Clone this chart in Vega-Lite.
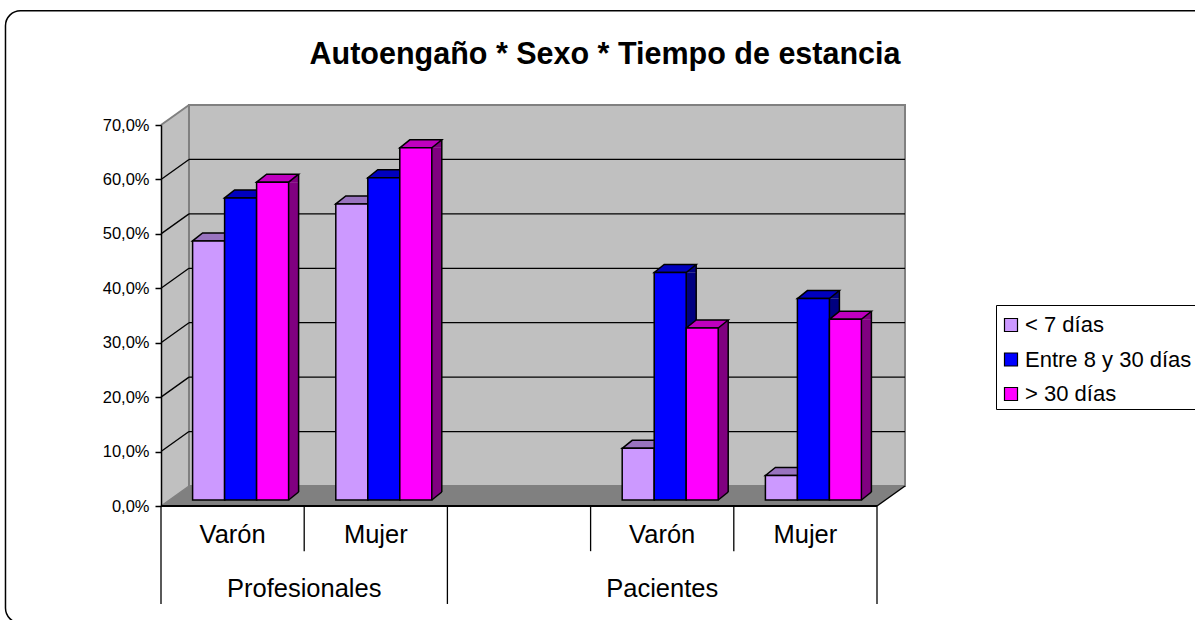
{
"$schema":"https://vega.github.io/schema/vega-lite/v6.json",
"autosize":{"type":"none"},
"padding":{"left":161,"top":125,"right":318,"bottom":114},
"width":716,"height":381,
"background":"white",
"title":{"text":"Autoengaño * Sexo * Tiempo de estancia","font":"Liberation Sans","fontSize":30.5,"fontWeight":"bold","color":"black","anchor":"middle","frame":"group","dx":86,"offset":-60.5},
"config":{"view":{"stroke":null},"font":"Liberation Sans","axisX":{"disable":true}},
"datasets":{
"barras":[
{"categoria":"Profesionales Varón","tiempo":"< 7 días","valor":47.6},
{"categoria":"Profesionales Varón","tiempo":"Entre 8 y 30 días","valor":55.5},
{"categoria":"Profesionales Varón","tiempo":"> 30 días","valor":58.4},
{"categoria":"Profesionales Mujer","tiempo":"< 7 días","valor":54.4},
{"categoria":"Profesionales Mujer","tiempo":"Entre 8 y 30 días","valor":59.2},
{"categoria":"Profesionales Mujer","tiempo":"> 30 días","valor":64.7},
{"categoria":"Pacientes Varón","tiempo":"< 7 días","valor":9.5},
{"categoria":"Pacientes Varón","tiempo":"Entre 8 y 30 días","valor":41.8},
{"categoria":"Pacientes Varón","tiempo":"> 30 días","valor":31.6},
{"categoria":"Pacientes Mujer","tiempo":"< 7 días","valor":4.5},
{"categoria":"Pacientes Mujer","tiempo":"Entre 8 y 30 días","valor":37.0},
{"categoria":"Pacientes Mujer","tiempo":"> 30 días","valor":33.2}
],
"sexos":[
{"pos":0.5,"sexo":"Varón"},
{"pos":1.5,"sexo":"Mujer"},
{"pos":3.5,"sexo":"Varón"},
{"pos":4.5,"sexo":"Mujer"}
],
"grupos":[
{"centro":1,"grupo":"Profesionales"},
{"centro":3.5,"grupo":"Pacientes"}
],
"separadores":[
{"f":0,"hasta":-18},
{"f":1,"hasta":-8.3},
{"f":2,"hasta":-18},
{"f":3,"hasta":-8.3},
{"f":4,"hasta":-8.3},
{"f":5,"hasta":-18}
],
"rejilla":[{"v":10},{"v":20},{"v":30},{"v":40},{"v":50},{"v":60}],
"uno":[{}]
},
"layer":[
{"data":{"name":"uno"},"mark":{"type":"rect","fill":"white","stroke":"black","strokeWidth":1.5,"cornerRadius":15},
 "encoding":{"x":{"datum":-1.086,"type":"quantitative"},"x2":{"datum":8},"y":{"datum":91,"type":"quantitative"},"y2":{"datum":-21.5}}},
{"mark":{"type":"area","fill":"#C0C0C0"},
 "data":{"values":[{"d":0,"lo":0,"hi":70},{"d":0.1955,"lo":3.67,"hi":73.67}]},
 "encoding":{"x":{"field":"d","type":"quantitative"},"y":{"field":"lo","type":"quantitative"},"y2":{"field":"hi"}}},
{"data":{"name":"uno"},"mark":{"type":"rect","fill":"#C0C0C0","stroke":"#808080","strokeWidth":2},
 "encoding":{"x":{"datum":0.1955,"type":"quantitative"},"x2":{"datum":5.1955},"y":{"datum":3.67,"type":"quantitative"},"y2":{"datum":73.67}}},
{"mark":{"type":"area","orient":"horizontal","fill":"#808080"},
 "data":{"values":[{"v":0,"a":0,"b":5},{"v":3.67,"a":0.1955,"b":5.1955}]},
 "encoding":{"y":{"field":"v","type":"quantitative"},"x":{"field":"a","type":"quantitative"},"x2":{"field":"b"}}},
{"mark":{"type":"rule","color":"black","strokeWidth":1.3,"yOffset":-20},
 "data":{"name":"rejilla"},
 "encoding":{"x":{"datum":0.1955,"type":"quantitative"},"x2":{"datum":5.1955},"y":{"field":"v","type":"quantitative","scale":{"domain":[0,70]},"axis":{"values":[0,10,20,30,40,50,60,70],"title":null,"grid":false,"domainColor":"black","domainWidth":1.5,"tickColor":"black","tickWidth":1.5,"tickSize":6,"labelFont":"Liberation Sans","labelFontSize":16.5,"labelColor":"black","labelPadding":6,"labelExpr":"replace(format(datum.value,'.1f'),'.',',')+'%'","zindex":1}}}},
{"mark":{"type":"rule","color":"black","strokeWidth":1.3,"y2Offset":-20},
 "data":{"name":"rejilla"},
 "encoding":{"x":{"datum":0,"type":"quantitative"},"x2":{"datum":0.1955},"y":{"field":"v","type":"quantitative"},"y2":{"field":"v"}}},
{"data":{"name":"uno"},"mark":{"type":"rule","color":"#808080","strokeWidth":2,"y2Offset":-20},
 "encoding":{"x":{"datum":0,"type":"quantitative"},"x2":{"datum":0.1955},"y":{"datum":70,"type":"quantitative"},"y2":{"datum":70}}},
{"data":{"name":"uno"},"mark":{"type":"rule","color":"#808080","strokeWidth":1.5,"y2Offset":-20},
 "encoding":{"x":{"datum":0,"type":"quantitative"},"x2":{"datum":0.1955},"y":{"datum":0,"type":"quantitative"},"y2":{"datum":0}}},
{"data":{"name":"uno"},"mark":{"type":"rule","color":"black","strokeWidth":1.5,"y2Offset":-20},
 "encoding":{"x":{"datum":5,"type":"quantitative"},"x2":{"datum":5.1955},"y":{"datum":0,"type":"quantitative"},"y2":{"datum":0}}},
{"data":{"name":"uno"},"mark":{"type":"rule","color":"black","strokeWidth":2},
 "encoding":{"x":{"datum":0,"type":"quantitative"},"x2":{"datum":5},"y":{"datum":0,"type":"quantitative"}}},
{"mark":{"type":"rule","color":"black","strokeWidth":1.3},
 "data":{"name":"separadores"},
 "encoding":{"x":{"field":"f","type":"quantitative","scale":{"domain":[0,5]}},"y":{"field":"hasta","type":"quantitative"},"y2":{"datum":0}}},
{"mark":{"type":"text","font":"Liberation Sans","fontSize":25.5,"color":"black","baseline":"middle"},
 "data":{"name":"grupos"},
 "encoding":{"x":{"field":"centro","type":"quantitative"},"y":{"datum":-15.2,"type":"quantitative"},"text":{"field":"grupo"}}},
{"mark":{"type":"text","font":"Liberation Sans","fontSize":25.5,"color":"black","baseline":"middle"},
 "data":{"name":"sexos"},
 "encoding":{"x":{"field":"pos","type":"quantitative"},"y":{"datum":-5.3,"type":"quantitative"},"text":{"field":"sexo"}}},
{"data":{"name":"barras"},
 "transform":[
  {"calculate":"indexof(['Profesionales Varón','Profesionales Mujer','-','Pacientes Varón','Pacientes Mujer'],datum.categoria)+0.5+8/143.2+(indexof(['< 7 días','Entre 8 y 30 días','> 30 días'],datum.tiempo)-1)*32/143.2","as":"centro"},
  {"calculate":"datum.centro-16/143.2","as":"izq"},
  {"calculate":"datum.centro+16/143.2","as":"der"}
 ],
 "layer":[
 {"mark":{"type":"rect","x2Offset":10,"yOffset":-6,"y2Offset":-14},
  "encoding":{"x":{"field":"der","type":"quantitative"},"x2":{"field":"der"},"y":{"field":"valor","type":"quantitative"},"y2":{"datum":0},"fill":{"condition":[{"test":"datum.tiempo==='< 7 días'","value":"#664D80"},{"test":"datum.tiempo==='Entre 8 y 30 días'","value":"#000080"}],"value":"#800080"}}},
 {"mark":{"type":"point","filled":true,"opacity":1,"size":4,"shape":"M16,0 L26,-8 L26,0 Z","yOffset":-6},
  "encoding":{"x":{"field":"centro","type":"quantitative"},"y":{"field":"valor","type":"quantitative"},"fill":{"condition":[{"test":"datum.tiempo==='< 7 días'","value":"#664D80"},{"test":"datum.tiempo==='Entre 8 y 30 días'","value":"#000080"}],"value":"#800080"}}},
 {"mark":{"type":"point","filled":true,"opacity":1,"size":4,"shape":"M16,-8 L26,-8 L16,0 Z","yOffset":-6},
  "encoding":{"x":{"field":"centro","type":"quantitative"},"y":{"datum":0,"type":"quantitative"},"fill":{"condition":[{"test":"datum.tiempo==='< 7 días'","value":"#664D80"},{"test":"datum.tiempo==='Entre 8 y 30 días'","value":"#000080"}],"value":"#800080"}}},
 {"mark":{"type":"point","filled":false,"opacity":1,"size":4,"shape":"M16,0 L26,-8","stroke":"black","strokeWidth":1.5,"yOffset":-6},
  "encoding":{"x":{"field":"centro","type":"quantitative"},"y":{"datum":0,"type":"quantitative"}}},
 {"mark":{"type":"rule","color":"black","strokeWidth":1.5,"xOffset":10,"yOffset":-14,"y2Offset":-14},
  "encoding":{"x":{"field":"der","type":"quantitative"},"y":{"field":"valor","type":"quantitative"},"y2":{"datum":0}}},
 {"mark":{"type":"point","filled":true,"opacity":1,"size":4,"shape":"M-16,0 L-6,-8 L26,-8 L16,0 Z","stroke":"black","strokeWidth":1.5,"yOffset":-6},
  "encoding":{"x":{"field":"centro","type":"quantitative"},"y":{"field":"valor","type":"quantitative"},"fill":{"condition":[{"test":"datum.tiempo==='< 7 días'","value":"#9973BF"},{"test":"datum.tiempo==='Entre 8 y 30 días'","value":"#0000BF"}],"value":"#BF00BF"}}},
 {"mark":{"type":"rect","stroke":"black","strokeWidth":1.5,"yOffset":-6,"y2Offset":-6},
  "encoding":{"x":{"field":"izq","type":"quantitative"},"x2":{"field":"der"},"y":{"field":"valor","type":"quantitative"},"y2":{"datum":0},"color":{"field":"tiempo","type":"nominal","scale":{"domain":["< 7 días","Entre 8 y 30 días","> 30 días"],"range":["#CC99FF","#0000FF","#FF00FF"]},
   "legend":{"title":" ","titleFontSize":1,"titlePadding":4,"orient":"none","legendX":835,"legendY":180,"strokeColor":"black","fillColor":"white","padding":4,"symbolType":"square","symbolSize":169,"symbolStrokeColor":"black","symbolStrokeWidth":1.2,"labelFont":"Liberation Sans","labelFontSize":22,"labelColor":"black","labelLimit":400,"rowPadding":12.5,"labelOffset":3}}}}
 ]}
]
}
